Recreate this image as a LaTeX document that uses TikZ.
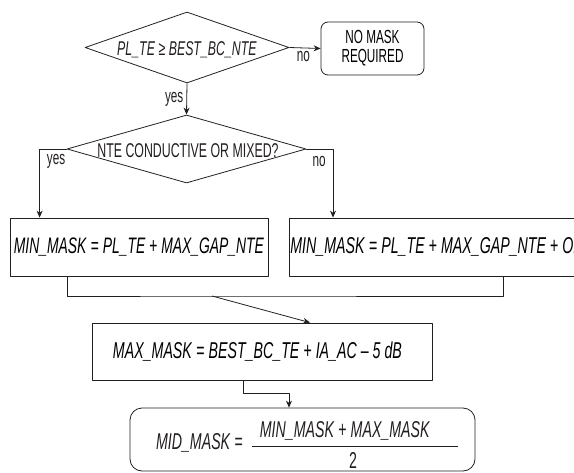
\documentclass[tikz,border=0pt]{standalone}
\usepackage{fontspec}
\setmainfont{Liberation Sans}[FakeStretch=0.62]
\usepackage{tikz}
\usetikzlibrary{arrows.meta,shapes.geometric}
\definecolor{ink}{HTML}{231F20}
\tikzset{
  every picture/.style={line join=round, >=Stealth},
  decision/.style={diamond, draw=ink, line width=0.8pt, inner sep=0pt},
  procbox/.style={rectangle, draw=ink, line width=0.8pt, inner sep=0pt},
  endbox/.style={rectangle, rounded corners=7bp, draw=ink, line width=0.8pt, inner sep=0pt},
  flow/.style={draw=ink, line width=0.8pt},
  tag/.style={font=\fontsize{19}{19}\selectfont, text=ink, inner sep=0pt},
}
\newcommand{\mm}[1]{\textit{#1}}

\begin{document}
\begin{tikzpicture}[x=1bp,y=-1bp,->,>={Stealth[length=7bp,width=6bp]},font=\fontsize{20}{20}\selectfont]
\useasboundingbox(0,0)rectangle(574,473);
\clip(0,0)rectangle(574,473);
% decisions
\node[decision,minimum width=204bp,minimum height=71bp](test)at(187,47.5){};
\node[tag,font=\fontsize{20}{20}\selectfont](testtxt)at(187,50){\mm{PL\_TE} ≥ \mm{BEST\_BC\_NTE}};
\node[endbox,minimum width=103bp,minimum height=53bp,align=center,font=\fontsize{19}{19}\selectfont](nomask)at(372.5,48.5){NO MASK\\REQUIRED};
\node[decision,minimum width=239bp,minimum height=68bp](cond)at(186.5,149){};
\node[tag,font=\fontsize{20}{20}\selectfont](condtxt)at(188,151){NTE CONDUCTIVE OR MIXED?};
% boxes
\node[procbox,minimum width=258bp,minimum height=58bp,font=\fontsize{22.5}{23}\selectfont](minl)at(139,247){\mm{MIN\_MASK} = \mm{PL\_TE} + \mm{MAX\_GAP\_NTE}};
\node[procbox,anchor=west,minimum height=58bp,font=\fontsize{23}{23}\selectfont,inner xsep=1bp](minr)at(289,247){\makebox[349bp][l]{\mm{MIN\_MASK} = \mm{PL\_TE} + \mm{MAX\_GAP\_NTE} + \mm{OE}}};
\node[procbox,minimum height=57bp,font=\fontsize{23}{23}\selectfont,inner xsep=21bp](maxm)at(262,351.5){\makebox[298bp][l]{\mm{MAX\_MASK} = \mm{BEST\_BC\_TE} + \mm{IA\_AC} – \mm{5 dB}}};
\node[endbox,rounded corners=12bp,minimum width=345bp,minimum height=63bp](mid)at(302.5,439.5){};
\node[tag,font=\fontsize{23}{23}\selectfont](midl)at(199.5,443){\mm{MID\_MASK} =};
\node[tag,font=\fontsize{23}{23}\selectfont](num)at(345,431){\mm{MIN\_MASK} + \mm{MAX\_MASK}};
\node[tag,font=\fontsize{23}{23}\selectfont](den)at(353,460){2};
\draw[-,flow](252,446)--(458,446);
% connectors
\draw[flow](test.east)--(nomask.west)node[tag,pos=0.45,below=3bp]{no};
\draw[flow](test.south)--(cond.north)node[tag,midway,left=3bp]{yes};
\draw[flow](cond.west)-|([xshift=30bp]minl.north west)node[tag,pos=0.59,right=7bp]{yes};
\draw[flow](cond.east)-|([xshift=44bp]minr.north west)node[tag,pos=0.59,left=7bp]{no};
\coordinate(join)at(212,296);
\draw[-,flow]([xshift=58bp]minl.south west)|-(join)-|([xshift=214bp]minr.south west);
\draw[flow](join)--([xshift=48bp]maxm.north);
\draw[flow]([xshift=-19bp]maxm.south)--++(0,13)-|([xshift=-13.5bp]mid.north);
\end{tikzpicture}
\end{document}
